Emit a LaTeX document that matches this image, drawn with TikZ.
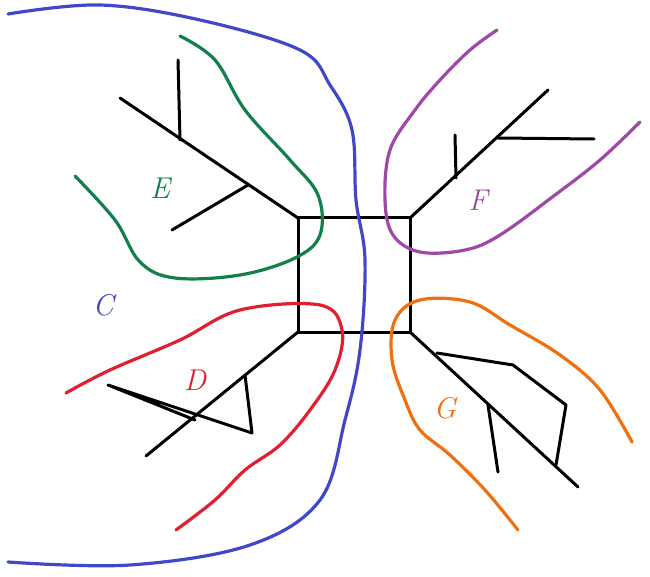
\documentclass[tikz,border=0pt]{standalone}
\begin{document}
\begin{tikzpicture}[x=1pt,y=-1pt,line cap=round,line join=round,
  tree/.style={draw=black,line width=3pt},
  curve/.style={line width=3.2pt},
  lab/.style={font=\fontsize{30}{30}\selectfont\itshape}]
\useasboundingbox (0,0) rectangle (650,577);
\definecolor{cb}{HTML}{4048C8}\definecolor{cg}{HTML}{11804A}
\definecolor{cp}{HTML}{A048A8}\definecolor{cr}{HTML}{E02030}\definecolor{co}{HTML}{F07010}
% square
\draw[tree] (298,218) rectangle (410,332);
% trees
\draw[tree] (298,218) -- (120,98);
\draw[tree] (180,140) -- (178,60);
\draw[tree] (248,185) -- (172,230);
\draw[tree] (410,218) -- (548,90);
\draw[tree] (456,178) -- (455,135);
\draw[tree] (498,138) -- (594,139);
\draw[tree] (298,332) -- (146,456);
\draw[tree] (245,375) -- (252,433) -- (108,385) -- (195,420);
\draw[tree] (410,332) -- (578,487);
\draw[tree] (437,353) -- (513,365) -- (566,405) -- (556,465);
\draw[tree] (488,405) -- (498,472);
% curves
\draw[curve,cb] plot[smooth,tension=0.6] coordinates {(8,14) (100,5) (200,20) (300,50) (330,85) (352,130) (356,200) (365,260) (360,350) (345,420) (320,500) (250,545) (130,565) (8,562)};
\draw[curve,cg] plot[smooth,tension=0.6] coordinates {(180,36) (215,60) (245,110) (290,160) (318,195) (320,235) (295,258) (240,275) (175,278) (140,262) (115,220) (75,176)};
\draw[curve,cp] plot[smooth,tension=0.6] coordinates {(497,30) (470,50) (440,80) (415,110) (390,150) (385,200) (393,235) (420,252) (465,250) (500,235) (555,195) (600,160) (640,122)};
\draw[curve,cr] plot[smooth,tension=0.6] coordinates {(66,393) (110,370) (180,340) (240,310) (320,305) (342,330) (335,370) (310,410) (280,445) (245,470) (215,500) (176,530)};
\draw[curve,co] plot[smooth,tension=0.6] coordinates {(518,530) (485,490) (450,455) (420,430) (405,400) (392,360) (395,320) (420,300) (470,302) (510,325) (560,355) (600,390) (632,442)};
% labels
\node[lab,text=cg] (E) at (160,188) {E};
\node[lab,text=cp] (F) at (478,200) {F};
\node[lab,text=cb] (C) at (103,305) {C};
\node[lab,text=cr] (D) at (195,380) {D};
\node[lab,text=co] (G) at (445,408) {G};
\end{tikzpicture}
\end{document}
